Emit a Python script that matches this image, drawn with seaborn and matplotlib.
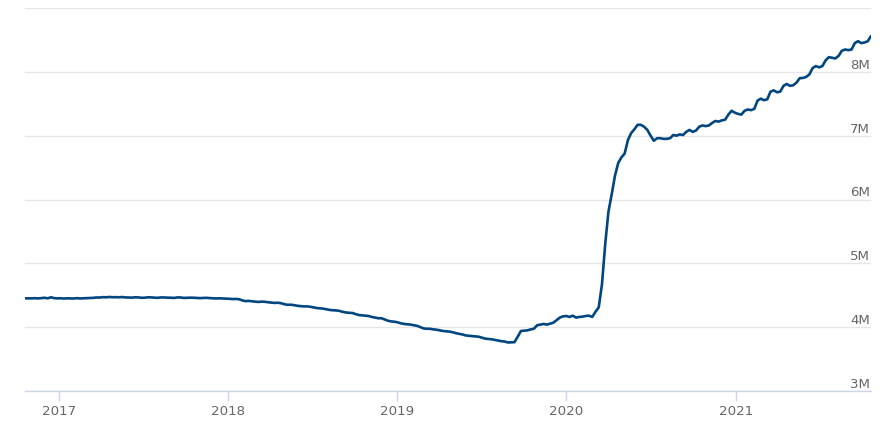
import numpy as np
import pandas as pd
import matplotlib
matplotlib.use("Agg")
import matplotlib.pyplot as plt
import matplotlib.transforms as mtransforms
import seaborn as sns

# weekly levels (Wednesdays), in M
first_week = "2016-10-19"

vals_2016 = [4.452, 4.452, 4.451, 4.454, 4.450, 4.455, 4.460, 4.452, 4.468, 4.455, 4.451]

vals_2017 = [4.453, 4.448, 4.452, 4.450,
             4.449, 4.454, 4.450, 4.452,
             4.455, 4.457, 4.459, 4.465, 4.464,
             4.470, 4.468, 4.473, 4.469,
             4.470, 4.468, 4.472, 4.466, 4.465,
             4.463, 4.468, 4.466, 4.460,
             4.462, 4.468, 4.466, 4.462,
             4.460, 4.466, 4.465, 4.462, 4.461,
             4.458, 4.466, 4.465, 4.458,
             4.460, 4.462, 4.461, 4.458,
             4.455, 4.458, 4.460, 4.455, 4.452,
             4.450, 4.452, 4.450, 4.448]

vals_2018 = [4.445, 4.440, 4.442, 4.438, 4.420,
             4.408, 4.412, 4.405, 4.400,
             4.395, 4.400, 4.398, 4.390,
             4.385, 4.380, 4.383, 4.375,
             4.360, 4.350, 4.352, 4.345, 4.335,
             4.330, 4.325, 4.326, 4.320,
             4.310, 4.300, 4.295, 4.290,
             4.280, 4.270, 4.265, 4.262, 4.255,
             4.240, 4.230, 4.225, 4.222,
             4.205, 4.190, 4.185, 4.180, 4.175,
             4.160, 4.150, 4.140, 4.140,
             4.120, 4.100, 4.090, 4.085]

vals_2019 = [4.075, 4.060, 4.050, 4.045, 4.040,
             4.030, 4.020, 4.000, 3.980,
             3.975, 3.975, 3.965, 3.960,
             3.950, 3.940, 3.935, 3.930,
             3.920, 3.905, 3.895, 3.885, 3.870,
             3.865, 3.860, 3.855, 3.850,
             3.835, 3.820, 3.815, 3.810, 3.800,
             3.790, 3.780, 3.775, 3.760,
             3.762, 3.765, 3.850, 3.940,
             3.945, 3.950, 3.965, 3.975, 4.030,
             4.040, 4.050, 4.040, 4.055,
             4.070, 4.110, 4.150, 4.170]

vals_2020 = [4.175, 4.160, 4.180, 4.150, 4.160,
             4.165, 4.175, 4.180, 4.160,
             4.240, 4.310, 4.670, 5.300,
             5.810, 6.080, 6.370, 6.570, 6.660,
             6.720, 6.930, 7.040, 7.100,
             7.170, 7.170, 7.140, 7.090,
             7.000, 6.920, 6.960, 6.960, 6.950,
             6.950, 6.960, 7.010, 7.000,
             7.020, 7.010, 7.060, 7.090, 7.060,
             7.080, 7.140, 7.160, 7.150,
             7.160, 7.200, 7.230, 7.220,
             7.240, 7.250, 7.330, 7.390, 7.360]

vals_2021 = [7.340, 7.330, 7.390, 7.410,
             7.400, 7.420, 7.550, 7.580,
             7.555, 7.570, 7.690, 7.710, 7.680,
             7.690, 7.780, 7.810, 7.780,
             7.790, 7.830, 7.900, 7.905,
             7.920, 7.960, 8.060, 8.090, 8.070,
             8.090, 8.180, 8.230, 8.220,
             8.210, 8.250, 8.330, 8.350,
             8.340, 8.350, 8.450, 8.480, 8.450,
             8.460, 8.480, 8.560]

y_ticks = [3, 4, 5, 6, 7, 8, 9]
x_years = [2017, 2018, 2019, 2020, 2021]

values = vals_2016 + vals_2017 + vals_2018 + vals_2019 + vals_2020 + vals_2021
dates = pd.date_range(first_week, periods=len(values), freq="W-WED")
df = pd.DataFrame({"date": dates, "value": values})

sns.set_style("white")
plt.rcParams['font.family'] = ['DejaVu Sans']

fig = plt.figure(figsize=(8.88, 4.29), dpi=100)
ax = fig.add_axes([25 / 888, (429 - 391) / 429, (871 - 25) / 888, (391 - 8) / 429])

sns.lineplot(data=df, x="date", y="value", ax=ax, color="#004680", linewidth=1.9)

ax.set_xlim(df["date"].iloc[0], df["date"].iloc[-1])
ax.set_ylim(y_ticks[0], y_ticks[-1])

# horizontal grid
ax.set_yticks(y_ticks)
ax.yaxis.grid(True, color="#e6e6e6", linewidth=1)
ax.tick_params(axis="y", left=False, right=False, labelleft=False, labelright=False)

# y labels sit inside the plot, right aligned, just above each grid line
trans = mtransforms.blended_transform_factory(ax.transAxes, ax.transData)
for t in y_ticks[:-1]:
    ax.text(0.999, t, f"{t}M", transform=trans, ha="right", va="bottom",
            fontsize=9.6, color="#666666")

for side in ["left", "right", "top"]:
    ax.spines[side].set_visible(False)
ax.spines["bottom"].set_color("#ccd6eb")
ax.spines["bottom"].set_linewidth(1)

ax.set_xticks([pd.Timestamp(f"{y}-01-01") for y in x_years])
ax.set_xticklabels([str(y) for y in x_years])
ax.tick_params(axis="x", bottom=True, length=7.5, width=1, color="#ccd6eb",
               labelcolor="#666666", labelsize=9.6, pad=2.5)

ax.set_xlabel("")
ax.set_ylabel("")

fig.savefig("out.png", dpi=100)
